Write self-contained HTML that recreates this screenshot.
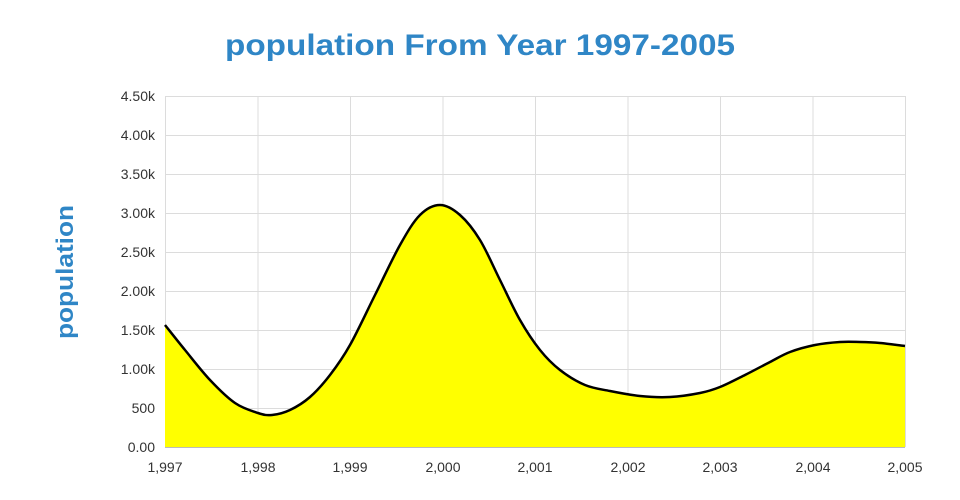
<!DOCTYPE html>
<html><head><meta charset="utf-8"><style>
html,body{margin:0;padding:0;background:#fff;width:960px;height:500px;overflow:hidden}
svg{display:block}
text{font-family:"Liberation Sans",sans-serif}
</style></head><body>
<svg width="960" height="500" viewBox="0 0 960 500">
<rect width="960" height="500" fill="#fff"/>
<text x="480" y="55" text-anchor="middle" font-size="30" font-weight="bold" fill="#2f86c6" textLength="510" lengthAdjust="spacingAndGlyphs">population From Year 1997-2005</text>
<text transform="translate(73,272) rotate(-90)" text-anchor="middle" font-size="24" font-weight="bold" fill="#2f86c6" textLength="134" lengthAdjust="spacingAndGlyphs">population</text>
<g stroke="#dcdcdc" stroke-width="1">
<line x1="165" y1="96.5" x2="905" y2="96.5"/><line x1="165" y1="135.5" x2="905" y2="135.5"/>
<line x1="165" y1="174.5" x2="905" y2="174.5"/><line x1="165" y1="213.5" x2="905" y2="213.5"/>
<line x1="165" y1="252.5" x2="905" y2="252.5"/><line x1="165" y1="291.5" x2="905" y2="291.5"/>
<line x1="165" y1="330.5" x2="905" y2="330.5"/><line x1="165" y1="369.5" x2="905" y2="369.5"/>
<line x1="165" y1="408.5" x2="905" y2="408.5"/>
<line x1="165.5" y1="96" x2="165.5" y2="447"/><line x1="258" y1="96" x2="258" y2="447"/>
<line x1="350.5" y1="96" x2="350.5" y2="447"/><line x1="443" y1="96" x2="443" y2="447"/>
<line x1="535.5" y1="96" x2="535.5" y2="447"/><line x1="628" y1="96" x2="628" y2="447"/>
<line x1="720.5" y1="96" x2="720.5" y2="447"/><line x1="813" y1="96" x2="813" y2="447"/>
<line x1="905.5" y1="96" x2="905.5" y2="447"/>
</g>
<path id="area" fill="#ffff00" d=""/>
<path id="line" fill="none" stroke="#000" stroke-width="2.5" stroke-linejoin="round" d=""/>
<line x1="165" y1="447.5" x2="905" y2="447.5" stroke="#bbb"/>
<g font-size="14" fill="#333" text-anchor="end">
<text x="155" y="101">4.50k</text><text x="155" y="140">4.00k</text><text x="155" y="179">3.50k</text>
<text x="155" y="218">3.00k</text><text x="155" y="257">2.50k</text><text x="155" y="296">2.00k</text>
<text x="155" y="335">1.50k</text><text x="155" y="374">1.00k</text><text x="155" y="413">500</text>
<text x="155" y="452">0.00</text>
</g>
<g font-size="14" fill="#333" text-anchor="middle">
<text x="165" y="472">1,997</text><text x="258" y="472">1,998</text><text x="350" y="472">1,999</text>
<text x="443" y="472">2,000</text><text x="535" y="472">2,001</text><text x="628" y="472">2,002</text>
<text x="720" y="472">2,003</text><text x="813" y="472">2,004</text><text x="905" y="472">2,005</text>
</g>
</svg>
<script>
var p=[[165,325],[185,350],[210,380],[235,403],[258,413],[272,415],[290,410],[310,397],[330,375],[350,345],[375,295],[400,245],[420,215],[440,205],[460,215],[480,240],[500,280],[520,320],[540,350],[560,370],[585,385],[610,391],[640,396],[670,397],[700,393],[720,387],[745,375],[770,362],[790,352],[815,345],[840,342],[860,342],[880,343],[905,346]];
var d="M"+p[0][0]+","+p[0][1];
for(var i=0;i<p.length-1;i++){
var a=p[Math.max(i-1,0)],b=p[i],c=p[i+1],e=p[Math.min(i+2,p.length-1)];
var c1x=b[0]+(c[0]-a[0])/6,c1y=b[1]+(c[1]-a[1])/6,c2x=c[0]-(e[0]-b[0])/6,c2y=c[1]-(e[1]-b[1])/6;
d+=" C"+c1x+","+c1y+" "+c2x+","+c2y+" "+c[0]+","+c[1];}
document.getElementById("line").setAttribute("d",d);
document.getElementById("area").setAttribute("d",d+" L905,447 L165,447 Z");
</script>
</body></html>
